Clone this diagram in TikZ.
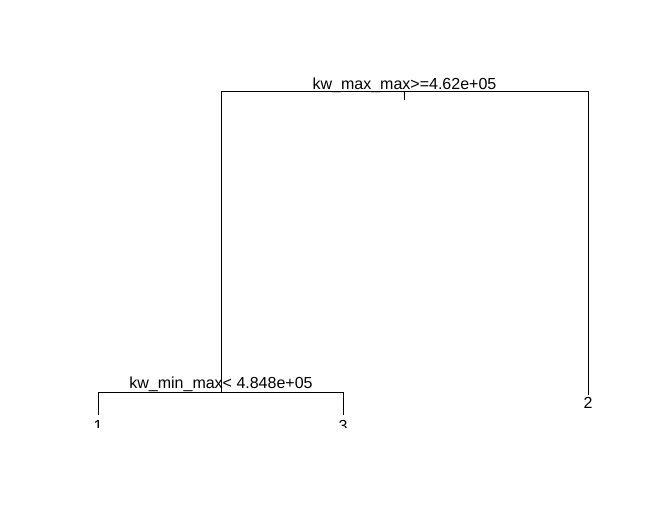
\documentclass[tikz,border=0pt]{standalone}
\usepackage{fontspec}
\setmainfont{Liberation Sans}
\begin{document}
\begin{tikzpicture}[x=1pt,y=-1pt,line width=0.8pt,
    lbl/.style={inner sep=0pt,anchor=base,font=\fontsize{16}{19}\selectfont}]
    \useasboundingbox (0,0) rectangle (648,526);

    % Split points and branch ends
    \coordinate (root) at (404.5,91);
    \coordinate (rootstub) at (404.5,100);
    \coordinate (lefttop) at (221,91);
    \coordinate (righttop) at (588,91);
    \coordinate (split) at (221,392);
    \coordinate (leftbot) at (98,392);
    \coordinate (rightbot) at (343,392);
    \coordinate (end1) at (98,415);
    \coordinate (end3) at (343,415);
    \coordinate (end2) at (588,395);

    % Draw the branches
    \draw (lefttop) -- (righttop);
    \draw (root) -- (rootstub);
    \draw (lefttop) -- (split);
    \draw (righttop) -- (end2);
    \draw (leftbot) -- (rightbot);
    \draw (leftbot) -- (end1);
    \draw (rightbot) -- (end3);

    % Split labels
    \node[lbl] (rootlbl) at (404.5,89.5) {kw\_max\_max>=4.62e+05};
    \node[lbl] (splitlbl) at (221,388.5) {kw\_min\_max< 4.848e+05};

    % Leaf labels (cut by the plot region)
    \node[lbl] (leaf2) at (588,409) {2};
    \begin{scope}
        \clip (0,0) rectangle (648,428);
        \node[lbl] (leaf1) at (98,431.5) {1};
        \node[lbl] (leaf3) at (343,431.5) {3};
    \end{scope}
\end{tikzpicture}
\end{document}
